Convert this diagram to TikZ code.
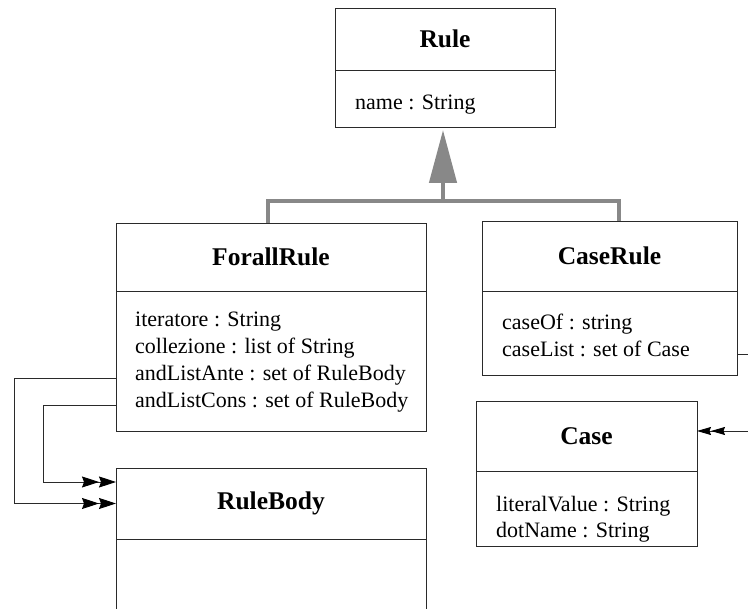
\documentclass[tikz,border=0pt]{standalone}
\usepackage{fontspec}
\setmainfont{Liberation Serif}
\usetikzlibrary{arrows.meta,calc}
\definecolor{gencol}{HTML}{888888}
\definecolor{boxcol}{HTML}{2A2A2A}
\begin{document}
\begin{tikzpicture}[x=1pt,y=1pt,
  comp/.style={draw=boxcol, line width=0.9pt, inner sep=0pt, outer sep=0pt, anchor=north west, align=center},
  ttl/.style={font=\fontsize{25.5}{30}\selectfont\bfseries},
  attr/.style={anchor=base west, inner sep=0pt, font=\fontsize{22}{27}\selectfont},
  gen/.style={draw=gencol, line width=4.5pt},
  assoc/.style={draw=boxcol, line width=0.9pt},
  dbl/.style={-{Stealth[length=17pt,width=11pt,inset=2pt,color=black]Stealth[length=17pt,width=11pt,inset=2pt,color=black]}},
  dbls/.style={-{Stealth[length=14pt,width=8pt,inset=1.5pt,color=black]Stealth[length=14pt,width=8pt,inset=1.5pt,color=black]}}
]
\useasboundingbox (0,0) rectangle (748,-609);
\clip (0,0) rectangle (748,-609);

% Rule
\node[comp, ttl, minimum width=220pt, minimum height=62pt] (ruleT) at (335,-8) {Rule};
\node[comp, minimum width=220pt, minimum height=57pt] (ruleB) at (335,-70) {};
\node[attr] (rname) at (355,-110) {name : String};

% ForallRule
\node[comp, ttl, minimum width=310pt, minimum height=68pt] (forallT) at (116,-223) {ForallRule};
\node[comp, minimum width=310pt, minimum height=140pt] (forallB) at (116,-291) {};
\node[attr] (iter) at (135,-327) {iteratore : String};
\node[attr] (coll) at (135,-354) {collezione : list of String};
\node[attr] (ante) at (135,-381) {andListAnte : set of RuleBody};
\node[attr] (cons) at (135,-408) {andListCons : set of RuleBody};

% CaseRule
\node[comp, ttl, minimum width=255pt, minimum height=70pt] (caseruleT) at (482,-221) {CaseRule};
\node[comp, minimum width=255pt, minimum height=84pt] (caseruleB) at (482,-291) {};
\node[attr] (caseof) at (502,-330) {caseOf : string};
\node[attr] (caselist) at (502,-357) {caseList : set of Case};

% Case
\node[comp, ttl, minimum width=221pt, minimum height=70pt] (caseT) at (476,-401) {Case};
\node[comp, minimum width=221pt, minimum height=75pt] (caseB) at (476,-471) {};
\node[attr] (litval) at (496,-512) {literalValue : String};
\node[attr] (dotname) at (496,-538) {dotName : String};

% RuleBody
\node[comp, ttl, minimum width=310pt, minimum height=71pt] (rbT) at (116,-468) {RuleBody};
\node[comp, minimum width=310pt, minimum height=111pt] (rbB) at (116,-539) {};

% Generalization
\coordinate (junction) at (443,-201);
\draw[gen] ([xshift=-3pt]forallT.north) -- ++(0,22) -| ([xshift=9.5pt]caseruleT.north);
\draw[gen, -{Triangle[length=53pt,width=27pt]}] (junction) -- ($(junction |- ruleB.south)+(0,-3)$);

% Associations
\draw[assoc, dbl] (forallB.west |- ante.mid) -- ++(-102,0) |- (rbT.west);
\draw[assoc, dbl] (forallB.west |- cons.mid) -- ++(-73,0) |- ([yshift=21.5pt]rbT.west);
\draw[assoc, dbls] (caseruleB.east |- caselist.mid) -- ++(25,0) |- ([yshift=5pt]caseT.east);
\end{tikzpicture}
\end{document}
